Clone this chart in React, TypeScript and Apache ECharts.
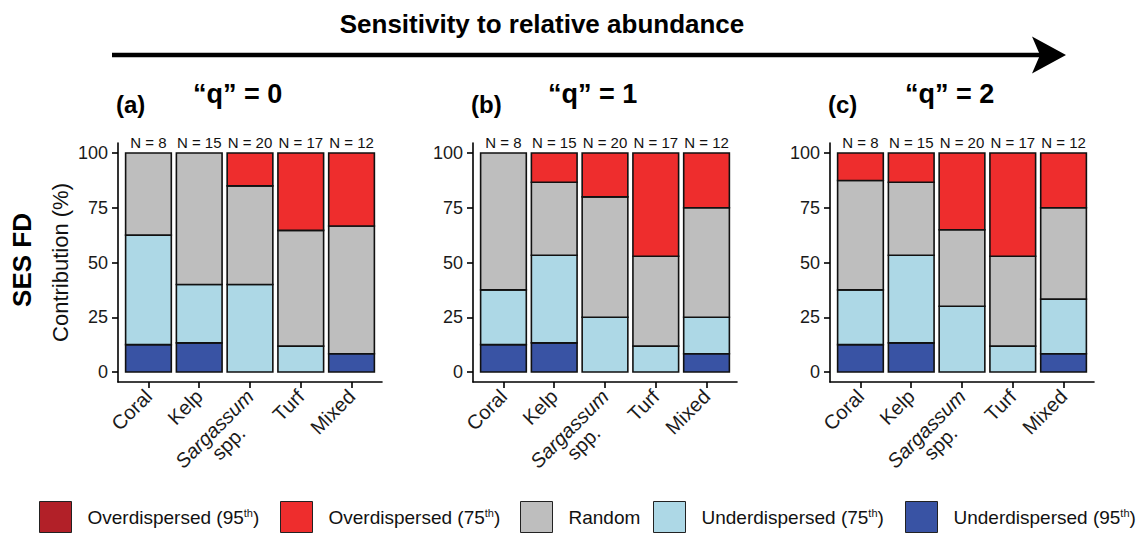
import React, { useEffect, useRef } from "react";
import * as echarts from "echarts";

const FONT = "'Liberation Sans', Arial, Helvetica, sans-serif";

const categories = ["Coral", "Kelp", "Sargassum spp.", "Turf", "Mixed"];
const sampleSizes = [8, 15, 20, 17, 12];
const yTicks = [0, 25, 50, 75, 100];
const categoryPositions = [1, 2, 3, 4, 5];

const layerNames = [
  "Underdispersed (95th)",
  "Underdispersed (75th)",
  "Random",
  "Overdispersed (75th)",
  "Overdispersed (95th)",
];
const legendOrder = [
  "Overdispersed (95th)",
  "Overdispersed (75th)",
  "Random",
  "Underdispersed (75th)",
  "Underdispersed (95th)",
];
const layerColors: Record<string, string> = {
  "Overdispersed (95th)": "#B22028",
  "Overdispersed (75th)": "#EE2D2D",
  Random: "#BEBEBE",
  "Underdispersed (75th)": "#ADD8E6",
  "Underdispersed (95th)": "#3953A4",
};

// q = 0
const q0Under95 = [12.5, 13.3, 0, 0, 8.3];
const q0Under75 = [50, 26.7, 40, 11.8, 0];
const q0Random = [37.5, 60, 45, 52.9, 58.4];
const q0Over75 = [0, 0, 15, 35.3, 33.3];
const q0Over95 = [0, 0, 0, 0, 0];
// q = 1
const q1Under95 = [12.5, 13.3, 0, 0, 8.3];
const q1Under75 = [25, 40, 25, 11.8, 16.7];
const q1Random = [62.5, 33.4, 55, 41.1, 50];
const q1Over75 = [0, 13.3, 20, 47.1, 25];
const q1Over95 = [0, 0, 0, 0, 0];
// q = 2
const q2Under95 = [12.5, 13.3, 0, 0, 8.3];
const q2Under75 = [25, 40, 30, 11.8, 25];
const q2Random = [50, 33.4, 35, 41.1, 41.7];
const q2Over75 = [12.5, 13.3, 35, 47.1, 25];
const q2Over95 = [0, 0, 0, 0, 0];

const panelLayers = [
  [q0Under95, q0Under75, q0Random, q0Over75, q0Over95],
  [q1Under95, q1Under75, q1Random, q1Over75, q1Over95],
  [q2Under95, q2Under75, q2Random, q2Over75, q2Over95],
];
const panelTags = ["(a)", "(b)", "(c)"];
const panelTitles = ["\u201Cq\u201D = 0", "\u201Cq\u201D = 1", "\u201Cq\u201D = 2"];

const gridLefts = [118, 473, 830];
const GRID_TOP = 143;
const GRID_H = 239;
const GRID_W = 264;

function buildOption() {
  const grids: any[] = [];
  const xAxes: any[] = [];
  const yAxes: any[] = [];
  const series: any[] = [];
  const graphics: any[] = [];

  panelLayers.forEach((layers, k) => {
    grids.push({ left: gridLefts[k], top: GRID_TOP, width: GRID_W, height: GRID_H, containLabel: false });
    xAxes.push({
      type: "value",
      gridIndex: k,
      min: 0.4,
      max: 5.6,
      splitLine: { show: false },
      axisLine: { show: true, onZero: false, lineStyle: { color: "#000", width: 1.6 } },
      axisTick: { show: true, customValues: categoryPositions, length: 6, lineStyle: { color: "#000", width: 1.6 } },
      axisLabel: {
        customValues: categoryPositions,
        rotate: 45,
        margin: 11,
        align: "right",
        verticalAlign: "middle",
        fontSize: 20,
        color: "#1a1a1a",
        fontFamily: FONT,
        formatter: (v: number) => {
          const name = categories[Math.round(v) - 1] || "";
          if (name.startsWith("Sargassum")) return "{e| }\n{it|Sargassum}\n{c|spp.}";
          return name;
        },
        rich: {
          e: { fontSize: 20, align: "center", fontFamily: FONT },
          it: { fontStyle: "italic", fontSize: 20, align: "center", color: "#1a1a1a", fontFamily: FONT },
          c: { fontSize: 20, align: "center", color: "#1a1a1a", fontFamily: FONT },
        },
      },
    });
    yAxes.push({
      type: "value",
      gridIndex: k,
      min: -4.57,
      max: 104.6,
      splitLine: { show: false },
      axisLine: { show: true, onZero: false, lineStyle: { color: "#000", width: 1.6 } },
      axisTick: { show: true, customValues: yTicks, length: 6, lineStyle: { color: "#000", width: 1.6 } },
      axisLabel: { customValues: yTicks, fontSize: 18, margin: 10, color: "#1a1a1a", fontFamily: FONT },
      name: k === 0 ? "Contribution (%)" : "",
      nameLocation: "middle",
      nameGap: 47,
      nameTextStyle: { fontSize: 22, color: "#111", fontFamily: FONT },
    });

    // stacked bars via custom series
    const cum = [0, 0, 0, 0, 0];
    layers.forEach((vals, li) => {
      const name = layerNames[li];
      const data: number[][] = [];
      vals.forEach((v, ci) => {
        if (v > 0) data.push([categoryPositions[ci], cum[ci], cum[ci] + v]);
        cum[ci] += v;
      });
      series.push({
        type: "custom",
        name,
        xAxisIndex: k,
        yAxisIndex: k,
        dimensions: ["x", "lo", "hi"],
        encode: { x: 0, y: [1, 2] },
        itemStyle: { color: layerColors[name] },
        data,
        renderItem: (params: any, api: any) => {
          const x = api.value(0);
          const lo = api.value(1);
          const hi = api.value(2);
          const p1 = api.coord([x - 0.45, hi]);
          const p2 = api.coord([x + 0.45, lo]);
          return {
            type: "rect",
            shape: { x: p1[0], y: p1[1], width: p2[0] - p1[0], height: p2[1] - p1[1] },
            style: { fill: layerColors[name], stroke: "#111", lineWidth: 1.6 },
          };
        },
      });
    });

    // N labels
    series.push({
      type: "custom",
      name: "N" + k,
      xAxisIndex: k,
      yAxisIndex: k,
      data: sampleSizes.map((n, ci) => [categoryPositions[ci], 100, n]),
      dimensions: ["x", "y", "n"],
      encode: { x: 0, y: 1 },
      renderItem: (params: any, api: any) => {
        const p = api.coord([api.value(0), api.value(1)]);
        return {
          type: "text",
          x: p[0],
          y: p[1] - 11,
          style: {
            text: "N = " + api.value(2),
            textAlign: "center",
            textVerticalAlign: "middle",
            fontSize: 15,
            fontFamily: FONT,
            fill: "#111",
          },
        };
      },
    });

    graphics.push({
      type: "text",
      left: gridLefts[k] - 2,
      top: 92,
      style: { text: panelTags[k], fontSize: 24, fontWeight: "bold", fontFamily: FONT, fill: "#000" },
    });
    graphics.push({
      type: "text",
      left: gridLefts[k] + 75,
      top: 80,
      style: { text: panelTitles[k], fontSize: 27, fontWeight: "bold", fontFamily: FONT, fill: "#000" },
    });
  });

  graphics.push({
    type: "text",
    x: 542,
    y: 24,
    style: {
      text: "Sensitivity to relative abundance",
      fontSize: 26,
      fontWeight: "bold",
      fontFamily: FONT,
      fill: "#000",
      textAlign: "center",
      textVerticalAlign: "middle",
    },
  });
  graphics.push({
    type: "line",
    shape: { x1: 112, y1: 55, x2: 1042, y2: 55 },
    style: { stroke: "#000", lineWidth: 4.5 },
  });
  graphics.push({
    type: "polygon",
    shape: { points: [[1032, 36.5], [1066, 55], [1032, 73.5], [1040, 55]] },
    style: { fill: "#000" },
  });
  graphics.push({
    type: "text",
    x: 22,
    y: 260,
    rotation: Math.PI / 2,
    style: {
      text: "SES FD",
      fontSize: 26,
      fontWeight: "bold",
      fontFamily: FONT,
      fill: "#000",
      textAlign: "center",
      textVerticalAlign: "middle",
    },
  });

  const legendLefts = [39, 280, 520, 653, 905];
  const legends = legendOrder.map((name, i) => ({
    data: [name],
    left: legendLefts[i],
    top: 501,
    padding: 0,
    icon: "rect",
    itemWidth: 32,
    itemHeight: 31,
    selectedMode: false,
    itemStyle: { color: layerColors[name], borderColor: "#222", borderWidth: 1 },
    formatter: (n: string) => n.replace(/(\d\d)th\)/, "$1{sup|th})"),
    textStyle: {
      fontSize: 19,
      color: "#111",
      fontFamily: FONT,
      padding: [0, 0, 0, 11],
      rich: {
        sup: { fontSize: 11, verticalAlign: "top", fontFamily: FONT, color: "#111", padding: [0, 0, 0, 0] },
      },
    },
  }));

  return {
    animation: false,
    backgroundColor: "#fff",
    textStyle: { fontFamily: FONT },
    grid: grids,
    xAxis: xAxes,
    yAxis: yAxes,
    legend: legends,
    series,
    graphic: graphics,
  };
}

export default function App() {
  const ref = useRef<HTMLDivElement>(null);
  useEffect(() => {
    if (!ref.current) return;
    const chart = echarts.init(ref.current, null, { renderer: "svg" });
    chart.setOption(buildOption() as any);
    return () => chart.dispose();
  }, []);
  return (
    <div
      ref={ref}
      style={{ position: "fixed", left: 0, top: 0, width: 1148, height: 533, background: "#fff" }}
    />
  );
}
